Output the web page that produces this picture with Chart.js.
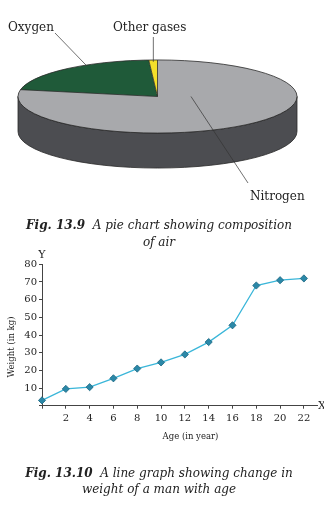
<!DOCTYPE html>
<html>
<head>
<meta charset="utf-8">
<script src="https://cdn.jsdelivr.net/npm/chart.js@4.4.1/dist/chart.umd.min.js"></script>
<style>
  html, body { margin: 0; padding: 0; background: #fff; }
  #page { position: relative; width: 324px; height: 509px; overflow: hidden; }
  .box { position: absolute; left: 0; width: 324px; }
  #pieBox { top: 0; height: 290px; pointer-events: none; }
  #lineBox { top: 250px; height: 200px; }
  .caption {
    position: absolute; left: -3px; width: 324px; text-align: center;
    font-family: "DejaVu Serif", serif; font-style: italic; font-size: 12px; color: #222;
  }
  .caption b { font-weight: bold; }
</style>
</head>
<body>
<div id="page">
  <div class="box" id="pieBox"><canvas id="pieChart"></canvas></div>
  <div class="caption" style="top:217px; line-height:17px"><b>Fig. 13.9</b>&nbsp; A pie chart showing composition<br>of air</div>
  <div class="box" id="lineBox"><canvas id="lineChart"></canvas></div>
  <div class="caption" style="top:465px; line-height:16px"><b>Fig. 13.10</b>&nbsp; A line graph showing change in<br>weight of a man with age</div>
</div>

<script>
// --- 1. DỮ LIỆU ---
const gasLabels = ['Nitrogen', 'Oxygen', 'Other gases'];
const gasShares = [78, 21, 1];
const gasColors = ['#a8a9ac', '#1f5a39', '#f3df2a'];

const ages = [0, 2, 4, 6, 8, 10, 12, 14, 16, 18, 20, 22];
const weights = [3, 9.5, 10.5, 15.5, 21, 24.5, 29, 36, 45.5, 68, 71, 72];
const ageTicks = [2, 4, 6, 8, 10, 12, 14, 16, 18, 20, 22];
const weightTicks = [10, 20, 30, 40, 50, 60, 70, 80];

// --- 2. BIỂU ĐỒ TRÒN 3D ---
const PIE_CY = 96.5;     // tâm elip mặt trên
const PIE_TILT = 0.262;  // tỉ lệ nén theo chiều dọc
const PIE_DEPTH = 35;    // độ dày thành bên

// vị trí chữ + đường dẫn cho từng lát (theo thứ tự gasLabels)
const callouts = [
  { textX: 250, textY: 197, endX: 248, endY: 183, at: 0.32, r: 0.24 },
  { textX: 8,   textY: 28,  endX: 55,  endY: 33,  at: 0.64, r: 1 },
  { textX: 113, textY: 28,  endX: null, endY: 37, at: 0.5,  r: 0.95 }
];

const tiltPie = {
  id: 'tiltPie',
  beforeDatasetsDraw(chart) {
    const ctx = chart.ctx;
    const arc = chart.getDatasetMeta(0).data[0];
    const { x, y, outerRadius } = arc.getProps(['x', 'y', 'outerRadius'], true);
    const rx = outerRadius, ry = outerRadius * PIE_TILT;

    // thành bên (màu xám đậm)
    ctx.save();
    ctx.beginPath();
    ctx.moveTo(x - rx, PIE_CY);
    ctx.lineTo(x - rx, PIE_CY + PIE_DEPTH);
    ctx.ellipse(x, PIE_CY + PIE_DEPTH, rx, ry, 0, Math.PI, 0, true);
    ctx.lineTo(x + rx, PIE_CY);
    ctx.ellipse(x, PIE_CY, rx, ry, 0, 0, Math.PI, false);
    ctx.closePath();
    ctx.fillStyle = '#4c4d51';
    ctx.fill();
    ctx.strokeStyle = '#2a2a2a';
    ctx.lineWidth = 0.8;
    ctx.stroke();
    ctx.restore();

    // nén các lát thành elip
    ctx.save();
    ctx.translate(x, PIE_CY);
    ctx.scale(1, PIE_TILT);
    ctx.translate(-x, -y);
  },
  afterDatasetsDraw(chart) {
    const ctx = chart.ctx;
    ctx.restore();

    const arcs = chart.getDatasetMeta(0).data;
    const { x, outerRadius } = arcs[0].getProps(['x', 'outerRadius'], true);
    const rx = outerRadius, ry = outerRadius * PIE_TILT;
    const px = (a, r) => x + rx * r * Math.cos(a);
    const py = (a, r) => PIE_CY + ry * r * Math.sin(a);

    ctx.save();
    ctx.strokeStyle = '#2a2a2a';
    ctx.lineWidth = 0.8;
    // viền mặt trên
    ctx.beginPath();
    ctx.ellipse(x, PIE_CY, rx, ry, 0, 0, Math.PI * 2);
    ctx.stroke();
    // đường chia lát
    arcs.forEach(el => {
      const { startAngle } = el.getProps(['startAngle'], true);
      ctx.beginPath();
      ctx.moveTo(x, PIE_CY);
      ctx.lineTo(px(startAngle, 1), py(startAngle, 1));
      ctx.stroke();
    });

    // nhãn + đường dẫn
    ctx.font = '12px "DejaVu Serif"';
    ctx.fillStyle = '#222';
    ctx.textBaseline = 'middle';
    ctx.textAlign = 'left';
    ctx.lineWidth = 0.7;
    ctx.strokeStyle = '#333';
    arcs.forEach((el, i) => {
      const c = callouts[i];
      const { startAngle, endAngle } = el.getProps(['startAngle', 'endAngle'], true);
      const a = startAngle + (endAngle - startAngle) * c.at;
      const ax = px(a, c.r), ay = py(a, c.r);
      ctx.beginPath();
      ctx.moveTo(ax, ay);
      ctx.lineTo(c.endX === null ? ax : c.endX, c.endY);
      ctx.stroke();
      ctx.fillText(chart.data.labels[i], c.textX, c.textY);
    });
    ctx.restore();
  }
};

new Chart(document.getElementById('pieChart'), {
  type: 'pie',
  data: {
    labels: gasLabels,
    datasets: [{ data: gasShares, backgroundColor: gasColors, borderWidth: 0 }]
  },
  options: {
    responsive: true,
    maintainAspectRatio: false,
    animation: false,
    events: [],
    radius: 139.5,
    layout: { padding: { right: 9 } },
    plugins: { legend: { display: false }, tooltip: { enabled: false } }
  },
  plugins: [tiltPie]
});

// --- 3. BIỂU ĐỒ ĐƯỜNG ---
const axisText = {
  id: 'axisText',
  afterDraw(chart) {
    const { ctx, chartArea: a } = chart;
    ctx.save();
    ctx.fillStyle = '#222';
    ctx.textBaseline = 'middle';
    ctx.font = '11px "DejaVu Serif"';
    ctx.textAlign = 'center';
    ctx.fillText('Y', a.left, a.top - 9);
    ctx.textAlign = 'left';
    ctx.fillText('X', a.right + 1, a.bottom);

    ctx.font = '8.5px "DejaVu Serif"';
    ctx.textAlign = 'center';
    ctx.fillText('Age (in year)', a.left + 148.5, a.bottom + 31.3);
    ctx.translate(12, a.top + 82.7);
    ctx.rotate(-Math.PI / 2);
    ctx.fillText('Weight (in kg)', 0, 0);
    ctx.restore();
  }
};

const axisColor = '#444';
const tickFont = { family: 'DejaVu Serif', size: 10 };

new Chart(document.getElementById('lineChart'), {
  type: 'line',
  data: {
    datasets: [{
      data: ages.map((a, i) => ({ x: a, y: weights[i] })),
      borderColor: '#3ab6d9',
      borderWidth: 1.3,
      tension: 0,
      clip: false,
      pointStyle: 'rectRot',
      pointRadius: 3.6,
      pointBackgroundColor: '#2b88a8',
      pointBorderColor: '#1c6680',
      pointBorderWidth: 0.8
    }]
  },
  options: {
    responsive: true,
    maintainAspectRatio: false,
    animation: false,
    events: [],
    layout: { padding: { top: 14.3, right: 7, left: 0, bottom: 0 } },
    plugins: { legend: { display: false }, tooltip: { enabled: false } },
    scales: {
      x: {
        type: 'linear',
        min: 0,
        max: 23.1,
        afterFit: s => { s.height = 44.3; },
        border: { display: true, color: axisColor, width: 1 },
        grid: { drawOnChartArea: false, drawTicks: true, tickLength: 3, color: axisColor },
        ticks: {
          stepSize: 2,
          includeBounds: false,
          padding: 4,
          color: '#222',
          font: tickFont,
          maxRotation: 0,
          callback: v => ageTicks.includes(v) ? v : ''
        }
      },
      y: {
        min: 0,
        max: 80,
        afterFit: s => { s.width = 42; },
        border: { display: true, color: axisColor, width: 1 },
        grid: { drawOnChartArea: false, drawTicks: true, tickLength: 3, color: axisColor },
        ticks: {
          stepSize: 10,
          padding: 2,
          color: '#222',
          font: tickFont,
          callback: v => weightTicks.includes(v) ? v : ''
        }
      }
    }
  },
  plugins: [axisText]
});
</script>
</body>
</html>
